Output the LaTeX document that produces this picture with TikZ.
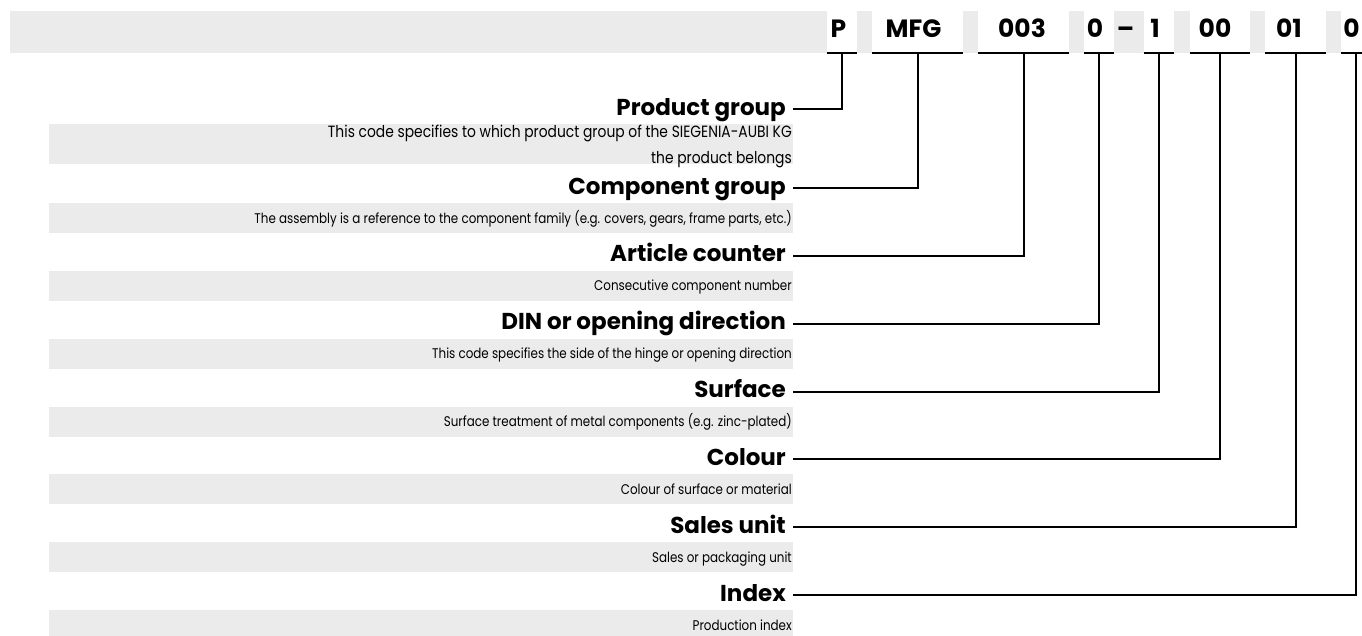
\documentclass[tikz,border=0pt]{standalone}
\usepackage{fontspec}
\setmainfont{Poppins}
\newfontfamily\descfont[FakeStretch=0.85]{Poppins}
\definecolor{bandgray}{HTML}{EBEBEB}
\tikzset{
  cell/.style={fill=white,draw=none,inner sep=0pt,minimum height=42pt},
  codetxt/.style={font=\bfseries\fontsize{25}{25}\selectfont,inner sep=0pt,anchor=base},
  lab/.style={font=\bfseries\fontsize{23}{23}\selectfont,inner sep=0pt,text height=12pt,text depth=0pt,anchor=east},
  desc/.style={font=\descfont\fontsize{14}{14}\selectfont,inner sep=0pt,anchor=base east},
  descbig/.style={desc,font=\descfont\fontsize{16.3}{16.3}\selectfont},
  uline/.style={line width=2pt},
  conn/.style={line width=2pt},
}
\begin{document}
\begin{tikzpicture}[x=1pt,y=-1pt]
\useasboundingbox (0,0) rectangle (1362,635);
% top code band
\fill[bandgray] (10,11) rectangle (1362,53);
\node[cell,minimum width=30pt] (cP)   at (842,32)    {};
\node[cell,minimum width=91pt] (cMFG) at (917.5,32)  {};
\node[cell,minimum width=91pt] (cArt) at (1023.5,32) {};
\node[cell,minimum width=30pt] (cDin) at (1099,32)   {};
\node[cell,minimum width=30pt] (cSur) at (1159,32)   {};
\node[cell,minimum width=60pt] (cCol) at (1220,32)   {};
\node[cell,minimum width=61pt] (cSal) at (1295.5,32) {};
\node[cell,minimum width=30pt] (cIdx) at (1356,32)   {};
\foreach \c in {cP,cMFG,cArt,cDin,cSur,cCol,cSal,cIdx}
  \draw[uline] (\c.south west) -- (\c.south east);
\node[codetxt] (tP)   at (838.5,37) {P};
\node[codetxt] (tMFG) at (913.5,37) {MFG};
\node[codetxt] (tArt) at (1022,37)  {003};
\node[codetxt] (tDin) at (1095,37)  {0};
\node[codetxt] (tDash) at (1125.5,37) {–};
\node[codetxt] (tSur) at (1155,37)  {1};
\node[codetxt] (tCol) at (1215,37)  {00};
\node[codetxt] (tSal) at (1289,37)  {01};
\node[codetxt] (tIdx) at (1351.5,37) {0};
% description bars
\fill[bandgray] (49,124) rectangle (793,164);
\foreach \y in {188,255.8,323.7,391.5,459.3,527.2,595}
  \fill[bandgray] (49,\y+15) rectangle (793,\y+45);
% labels
\node[lab] (lP)   at (786,109)   {Product group};
\node[lab] (lMFG) at (786,188)   {Component group};
\node[lab] (lArt) at (786,255.8) {Article counter};
\node[lab] (lDin) at (786,323.7) {DIN or opening direction};
\node[lab] (lSur) at (786,391.5) {Surface};
\node[lab] (lCol) at (786,459.3) {Colour};
\node[lab] (lSal) at (786,527.2) {Sales unit};
\node[lab] (lIdx) at (786,595)   {Index};
% descriptions
\node[descbig] (dP1) at (792,137.3) {This code specifies to which product group of the SIEGENIA-AUBI KG};
\node[descbig] (dP2) at (792,163)   {the product belongs};
\node[desc] (dMFG) at (792,188+35)   {The assembly is a reference to the component family (e.g. covers, gears, frame parts, etc.)};
\node[desc] (dArt) at (792,255.8+35) {Consecutive component number};
\node[desc] (dDin) at (792,323.7+35) {This code specifies the side of the hinge or opening direction};
\node[desc] (dSur) at (792,391.5+35) {Surface treatment of metal components (e.g. zinc-plated)};
\node[desc] (dCol) at (792,459.3+35) {Colour of surface or material};
\node[desc] (dSal) at (792,527.2+35) {Sales or packaging unit};
\node[desc] (dIdx) at (792,595+35)   {Production index};
% connectors
\foreach \l/\c in {lP/cP,lMFG/cMFG,lArt/cArt,lDin/cDin,lSur/cSur,lCol/cCol,lSal/cSal,lIdx/cIdx}
  \draw[conn] ([xshift=7pt]\l.east) -| (\c.south);
\end{tikzpicture}
\end{document}
